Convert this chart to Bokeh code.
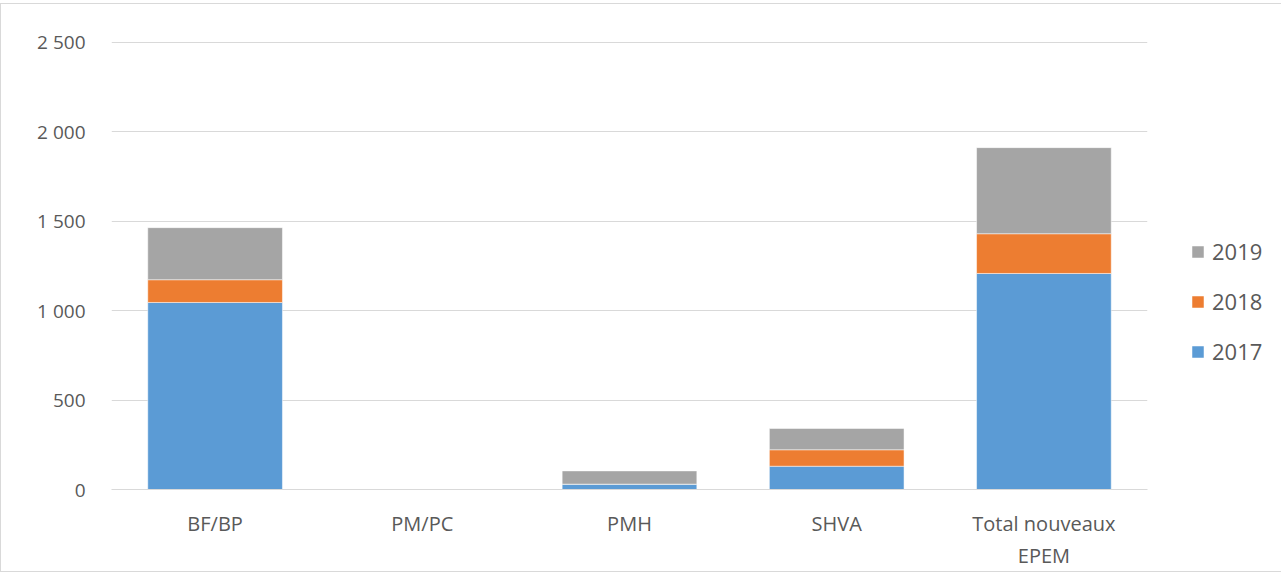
from bokeh.plotting import figure
from bokeh.models import Legend, LegendItem, FixedTicker, Range1d
from bokeh.embed import file_html
from bokeh.resources import INLINE

categories = ["BF/BP", "PM/PC", "PMH", "SHVA", "Total nouveaux\nEPEM"]
years = ["2017", "2018", "2019"]
v2017 = [1045, 0, 30, 130, 1207]
v2018 = [127, 0, 0, 92, 222]
v2019 = [291, 0, 74, 119, 481]
colors = ["#5B9BD5", "#ED7D31", "#A5A5A5"]
y_ticks = [0, 500, 1000, 1500, 2000, 2500]
y_tick_labels = ["0", "500", "1 000", "1 500", "2 000", "2 500"]

FONT = "Open Sans"
TXT = "#595959"

data = {"cat": categories, "2017": v2017, "2018": v2018, "2019": v2019}

p = figure(x_range=categories, y_range=Range1d(0, 2503),
           frame_width=1036, frame_height=448,
           output_backend="svg", toolbar_location=None,
           min_border_left=110, min_border_right=125, min_border_top=37, min_border_bottom=72)
p.styles = {"border": "1px solid #d9d9d9", "margin-top": "3px"}

rs = p.vbar_stack(years, x="cat", width=0.65, color=colors, source=data,
                  line_color="white", line_width=0.5)

p.outline_line_color = None
p.xgrid.grid_line_color = None
p.ygrid.grid_line_color = "#d9d9d9"
p.ygrid.grid_line_width = 1
p.yaxis.ticker = FixedTicker(ticks=y_ticks)
p.yaxis.major_label_overrides = {t: l for t, l in zip(y_ticks, y_tick_labels)}
for ax in (p.xaxis, p.yaxis):
    ax.major_tick_line_color = None
    ax.minor_tick_line_color = None
    ax.major_tick_out = 0
    ax.major_tick_in = 0
    ax.major_label_text_font = FONT
    ax.major_label_text_color = TXT
p.yaxis.major_label_text_font_size = "19px"
p.xaxis.major_label_text_font_size = "20px"
p.yaxis.axis_line_color = None
p.yaxis.major_label_standoff = 26
p.xaxis.axis_line_color = "#d9d9d9"
p.xaxis.axis_line_width = 1
p.xaxis.major_label_standoff = 20

items = [LegendItem(label=years[i], renderers=[rs[i]]) for i in (2, 1, 0)]
legend = Legend(items=items, location=(43, 123), orientation="vertical",
                glyph_width=15, glyph_height=15, label_height=20, spacing=20,
                padding=0, margin=0, border_line_color=None, background_fill_alpha=0,
                label_text_font=FONT, label_text_font_size="22px", label_text_color=TXT,
                label_standoff=7)
p.add_layout(legend, "right")

open("out.html", "w").write(file_html(p, INLINE))
